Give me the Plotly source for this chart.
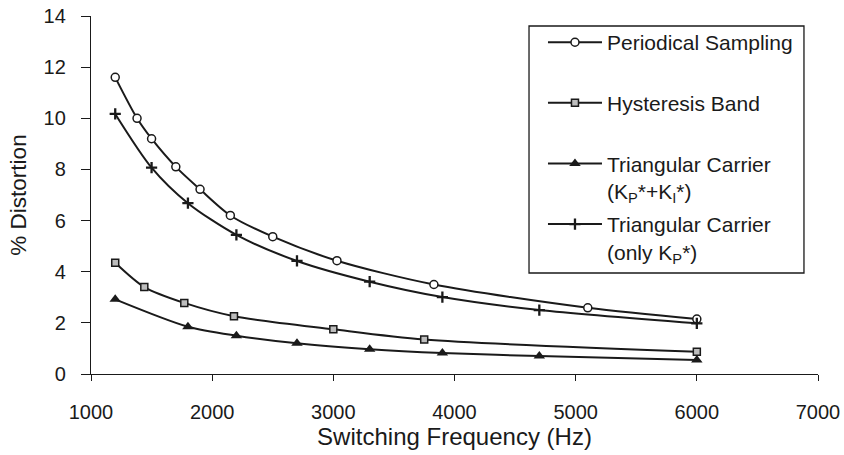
import plotly.graph_objects as go

# --- data ---
periodical_x = [1200, 1380, 1500, 1700, 1900, 2150, 2500, 3030, 3830, 5100, 6000]
periodical_y = [11.6, 10.0, 9.2, 8.1, 7.22, 6.2, 5.37, 4.43, 3.5, 2.59, 2.15]

hysteresis_x = [1200, 1440, 1770, 2180, 3000, 3750, 6000]
hysteresis_y = [4.35, 3.4, 2.78, 2.26, 1.75, 1.35, 0.87]

tri_kpki_x = [1200, 1800, 2200, 2700, 3300, 3900, 4700, 6000]
tri_kpki_y = [2.92, 1.85, 1.5, 1.2, 0.97, 0.82, 0.7, 0.55]

tri_kp_x = [1200, 1500, 1800, 2200, 2700, 3300, 3900, 4700, 6000]
tri_kp_y = [10.17, 8.07, 6.68, 5.44, 4.42, 3.61, 3.01, 2.5, 1.98]

series_names = [
    "Periodical Sampling<br>&nbsp;",
    "Hysteresis Band<br>&nbsp;",
    "Triangular Carrier<br>(K<sub>P</sub>*+K<sub>I</sub>*)",
    "Triangular Carrier<br>(only K<sub>P</sub>*)",
]

x_ticks = [1000, 2000, 3000, 4000, 5000, 6000, 7000]
y_ticks = [0, 2, 4, 6, 8, 10, 12, 14]

INK = "#1a1a1a"
FONT = "Liberation Sans, Arial, sans-serif"

fig = go.Figure()
line = dict(color=INK, width=2, shape="spline", smoothing=0.8)

fig.add_trace(go.Scatter(
    x=periodical_x, y=periodical_y, name=series_names[0], legendgroup="a",
    mode="lines+markers", line=line,
    marker=dict(symbol="circle", size=8, color="white", line=dict(color=INK, width=1.5)),
))
fig.add_trace(go.Scatter(
    x=hysteresis_x, y=hysteresis_y, name=series_names[1], legendgroup="b",
    mode="lines+markers", line=line,
    marker=dict(symbol="square", size=7, color="#bdbdbd", line=dict(color=INK, width=1.5)),
))
fig.add_trace(go.Scatter(
    x=tri_kpki_x, y=tri_kpki_y, name=series_names[2], legendgroup="c",
    mode="lines+markers", line=line,
    marker=dict(symbol="triangle-up", size=10, color=INK, line=dict(color=INK, width=0)),
))
fig.add_trace(go.Scatter(
    x=tri_kp_x, y=tri_kp_y, name=series_names[3], legendgroup="d",
    mode="lines+markers", line=line,
    marker=dict(symbol="cross-thin", size=8, color=INK, line=dict(color=INK, width=2.3)),
))

axis_common = dict(showline=True, linecolor=INK, linewidth=1.3, showgrid=False,
                   zeroline=False, tickcolor=INK, tickwidth=1.3, automargin=False,
                   ticklabeloverflow="allow",
                   tickfont=dict(family=FONT, size=20, color=INK))

# legend frame (decoration, paper coordinates)
fig.add_shape(type="rect", xref="paper", yref="paper",
              x0=0.6025, x1=0.9807, y0=0.2821, y1=0.972,
              line=dict(color=INK, width=1.3), fillcolor="white", layer="above")

fig.update_layout(
    width=844, height=455,
    margin=dict(l=91, r=26, t=16, b=81),
    paper_bgcolor="white", plot_bgcolor="white",
    font=dict(family=FONT, color=INK),
    xaxis=dict(range=[1000, 7000], tickvals=x_ticks, ticks="outside", ticklen=6,
               title=dict(text="Switching Frequency (Hz)", font=dict(family=FONT, size=24, color=INK), standoff=4),
               ticklabelstandoff=14, **axis_common),
    yaxis=dict(range=[0, 14], tickvals=y_ticks, ticks="outside", ticklen=9,
               title=dict(text="% Distortion", font=dict(family=FONT, size=22.5, color=INK), standoff=10),
               ticklabelstandoff=11, **axis_common),
    xaxis2=dict(overlaying="x", matches="x", range=[1000, 7000], tickvals=x_ticks, ticks="inside",
                ticklen=8, tickcolor=INK, tickwidth=1.3, showticklabels=False, showgrid=False,
                zeroline=False, showline=False, side="bottom", automargin=False),
    yaxis2=dict(overlaying="y", matches="y", range=[0, 14], tickvals=y_ticks, ticks="inside",
                ticklen=6, tickcolor=INK, tickwidth=1.3, showticklabels=False, showgrid=False,
                zeroline=False, showline=False, side="left", automargin=False),
    legend=dict(x=0.6217, y=0.983, xanchor="left", yanchor="top",
                borderwidth=0, bgcolor="rgba(0,0,0,0)",
                font=dict(family=FONT, size=21, color=INK), valign="top",
                tracegroupgap=3, itemwidth=54),
    showlegend=True,
)

# remove the browser's default 8px body margin so the figure fills the window exactly
fig.write_html("out.html", config={"displayModeBar": False},
               post_script="document.body.style.margin='0px';")
